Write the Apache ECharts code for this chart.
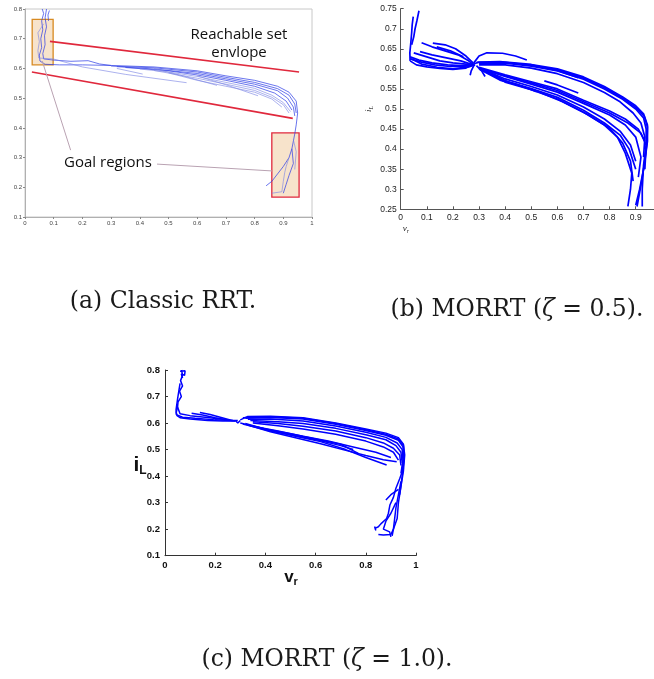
<!DOCTYPE html>
<html>
<head>
<meta charset="utf-8">
<script src="https://cdn.jsdelivr.net/npm/echarts@6/dist/echarts.min.js"></script>
<style>
html, body { margin: 0; padding: 0; background: #fff; }
#chart { width: 654px; height: 679px; }
</style>
</head>
<body>
<div id="chart"></div>
<script>
// (a) classic RRT, [v_r, i_L] points along each branch
var classicPaths = [
	[[0.06,0.8],[0.065,0.785],[0.058,0.76],[0.062,0.73],[0.055,0.7],[0.058,0.67],[0.05,0.645],[0.052,0.625],[0.07,0.614],[0.12,0.612],[0.2,0.612],[0.3,0.61]],
	[[0.075,0.8],[0.07,0.77],[0.075,0.74],[0.068,0.71],[0.07,0.68],[0.062,0.65],[0.065,0.632],[0.1,0.628],[0.16,0.624],[0.22,0.626],[0.26,0.615],[0.3,0.61]],
	[[0.085,0.795],[0.08,0.78],[0.082,0.76]],
	[[0.3,0.61],[0.45,0.605],[0.6,0.592],[0.7,0.575],[0.8,0.56],[0.88,0.54],[0.92,0.52],[0.945,0.49],[0.95,0.45],[0.945,0.41],[0.94,0.38]],
	[[0.3,0.608],[0.45,0.602],[0.6,0.588],[0.7,0.57],[0.8,0.553],[0.88,0.532],[0.92,0.51],[0.94,0.48],[0.945,0.45]],
	[[0.32,0.606],[0.45,0.598],[0.6,0.583],[0.7,0.565],[0.8,0.547],[0.88,0.525],[0.915,0.5],[0.935,0.47],[0.94,0.44]],
	[[0.35,0.603],[0.5,0.592],[0.6,0.578],[0.7,0.56],[0.8,0.54],[0.87,0.517],[0.91,0.49],[0.93,0.46]],
	[[0.94,0.38],[0.93,0.33],[0.92,0.3],[0.9,0.27],[0.88,0.245],[0.86,0.22],[0.84,0.205]],
	[[0.93,0.33],[0.935,0.28],[0.92,0.24],[0.91,0.21],[0.9,0.18]]
];
var classicFaintPaths = [
	[[0.065,0.75],[0.045,0.72],[0.05,0.69],[0.045,0.66],[0.048,0.635],[0.098,0.632],[0.2,0.605],[0.35,0.58],[0.563,0.552]],
	[[0.4,0.598],[0.5,0.588],[0.6,0.573],[0.7,0.553],[0.8,0.533],[0.86,0.51],[0.9,0.485],[0.925,0.455]],
	[[0.45,0.593],[0.6,0.567],[0.7,0.547],[0.8,0.526],[0.86,0.503],[0.9,0.478],[0.92,0.45]],
	[[0.5,0.585],[0.6,0.56],[0.7,0.54],[0.8,0.52],[0.86,0.497],[0.895,0.47]],
	[[0.45,0.6],[0.55,0.575],[0.669,0.543]],
	[[0.6,0.575],[0.7,0.545],[0.812,0.508]],
	[[0.32,0.6],[0.41,0.581]],
	[[0.92,0.3],[0.91,0.27],[0.905,0.25],[0.9,0.22],[0.895,0.185],[0.86,0.18]],
	[[0.935,0.36],[0.945,0.32],[0.94,0.26]]
];
// goal boxes [v0, i0, v1, i1] and envelope lines [v0, i0, v1, i1]
var goalBoxes = [[0.025,0.612,0.098,0.765],[0.86,0.167,0.955,0.383]];
var goalBoxColors = ['#d88a22', '#e0283c'];
var envelopeLines = [[0.087,0.691,0.955,0.588],[0.024,0.588,0.933,0.432]];
var goalPointers = [[0.159,0.325,0.06,0.625],[0.46,0.278,0.861,0.255]];

// (b) MORRT zeta = 0.5
var morrtHalfPaths = [
	[[0.036,0.62],[0.035,0.64],[0.038,0.66],[0.042,0.69],[0.044,0.71],[0.048,0.73]],
	[[0.042,0.66],[0.05,0.68],[0.055,0.7],[0.062,0.72],[0.07,0.745]],
	[[0.036,0.63],[0.07,0.622],[0.12,0.615],[0.18,0.61],[0.23,0.608],[0.278,0.61]],
	[[0.036,0.62],[0.06,0.61],[0.1,0.605],[0.15,0.601],[0.2,0.599],[0.25,0.602],[0.278,0.612]],
	[[0.04,0.625],[0.08,0.612],[0.14,0.604],[0.2,0.6],[0.26,0.605],[0.285,0.61]],
	[[0.036,0.625],[0.08,0.617],[0.13,0.61],[0.19,0.606],[0.24,0.606],[0.28,0.61]],
	[[0.074,0.643],[0.12,0.635],[0.18,0.627],[0.23,0.62],[0.278,0.61]],
	[[0.08,0.665],[0.12,0.655],[0.17,0.645],[0.22,0.635],[0.26,0.62],[0.28,0.61]],
	[[0.123,0.664],[0.17,0.66],[0.21,0.65],[0.25,0.632],[0.28,0.613]],
	[[0.05,0.64],[0.1,0.63],[0.15,0.62],[0.2,0.615],[0.25,0.612],[0.28,0.61]],
	[[0.138,0.655],[0.19,0.645],[0.24,0.63]],
	[[0.28,0.615],[0.3,0.632],[0.33,0.64],[0.39,0.639],[0.44,0.632],[0.483,0.622]],
	[[0.28,0.608],[0.27,0.595],[0.266,0.584]],
	[[0.29,0.608],[0.31,0.595],[0.323,0.581]],
	[[0.28,0.612],[0.3,0.617],[0.38,0.618],[0.5,0.611],[0.6,0.6],[0.7,0.58],[0.78,0.556],[0.85,0.53],[0.9,0.508],[0.93,0.488],[0.945,0.46],[0.945,0.42],[0.935,0.37],[0.92,0.31],[0.905,0.257]],
	[[0.29,0.616],[0.4,0.616],[0.5,0.609],[0.6,0.598],[0.7,0.577],[0.78,0.553],[0.85,0.527],[0.9,0.504],[0.932,0.483],[0.945,0.455],[0.943,0.415],[0.93,0.35],[0.915,0.3],[0.9,0.26]],
	[[0.3,0.614],[0.4,0.614],[0.5,0.607],[0.6,0.595],[0.7,0.574],[0.78,0.55],[0.85,0.524],[0.9,0.5],[0.93,0.478],[0.94,0.45],[0.94,0.41],[0.93,0.36],[0.925,0.3],[0.925,0.257]],
	[[0.3,0.61],[0.4,0.61],[0.5,0.602],[0.6,0.588],[0.7,0.566],[0.78,0.541],[0.84,0.518],[0.89,0.49],[0.92,0.465],[0.935,0.43],[0.93,0.38]],
	[[0.3,0.604],[0.4,0.585],[0.5,0.568],[0.6,0.55],[0.7,0.522],[0.8,0.495],[0.86,0.475],[0.91,0.45],[0.935,0.42]],
	[[0.3,0.602],[0.4,0.583],[0.5,0.565],[0.6,0.546],[0.7,0.518],[0.8,0.49],[0.87,0.465],[0.92,0.44],[0.94,0.41],[0.935,0.35]],
	[[0.31,0.6],[0.4,0.581],[0.5,0.562],[0.6,0.542],[0.7,0.514],[0.8,0.485],[0.86,0.46],[0.9,0.43],[0.92,0.38],[0.91,0.33]],
	[[0.32,0.597],[0.4,0.575],[0.5,0.556],[0.6,0.535],[0.7,0.505],[0.78,0.475],[0.84,0.445],[0.88,0.41],[0.9,0.37]],
	[[0.3,0.6],[0.38,0.572],[0.45,0.56],[0.521,0.543]],
	[[0.3,0.603],[0.4,0.57],[0.5,0.551],[0.6,0.529],[0.7,0.497],[0.78,0.465],[0.84,0.435],[0.875,0.4],[0.9,0.35]],
	[[0.31,0.598],[0.4,0.567],[0.5,0.548],[0.6,0.525],[0.7,0.492],[0.78,0.46],[0.83,0.43],[0.86,0.39],[0.885,0.34],[0.88,0.3],[0.87,0.257]],
	[[0.32,0.595],[0.42,0.565],[0.52,0.545],[0.62,0.518],[0.72,0.485],[0.8,0.452],[0.85,0.415],[0.88,0.37],[0.89,0.32]],
	[[0.5,0.61],[0.6,0.596],[0.68,0.578]],
	[[0.55,0.57],[0.6,0.56],[0.68,0.54]]
];

// (c) MORRT zeta = 1.0
var morrtOnePaths = [
	[[0.06,0.795],[0.08,0.797],[0.078,0.78],[0.065,0.785],[0.07,0.77]],
	[[0.066,0.8],[0.07,0.78],[0.062,0.76],[0.07,0.74],[0.058,0.72],[0.065,0.7],[0.052,0.68],[0.05,0.66],[0.045,0.64],[0.048,0.628],[0.06,0.62],[0.1,0.615],[0.17,0.61],[0.23,0.608],[0.28,0.608]],
	[[0.06,0.75],[0.055,0.72],[0.05,0.69],[0.044,0.65],[0.045,0.632],[0.07,0.622],[0.12,0.618],[0.2,0.612],[0.26,0.61],[0.29,0.61]],
	[[0.05,0.66],[0.06,0.635],[0.1,0.628],[0.16,0.622],[0.22,0.615],[0.27,0.61]],
	[[0.106,0.637],[0.15,0.63],[0.2,0.62],[0.25,0.612],[0.28,0.608]],
	[[0.139,0.64],[0.18,0.632],[0.22,0.622],[0.26,0.612]],
	[[0.28,0.61],[0.29,0.6],[0.3,0.61]],
	[[0.3,0.612],[0.33,0.625],[0.42,0.626],[0.55,0.62],[0.68,0.6],[0.8,0.578],[0.88,0.562],[0.93,0.545],[0.95,0.52],[0.955,0.48],[0.95,0.42],[0.94,0.36],[0.93,0.3],[0.925,0.24],[0.91,0.2],[0.905,0.175]],
	[[0.31,0.62],[0.42,0.624],[0.55,0.618],[0.68,0.598],[0.8,0.575],[0.88,0.558],[0.93,0.54],[0.95,0.515],[0.953,0.47],[0.945,0.4],[0.935,0.33]],
	[[0.32,0.618],[0.42,0.621],[0.55,0.615],[0.68,0.595],[0.8,0.572],[0.88,0.554],[0.93,0.535],[0.948,0.51],[0.95,0.47],[0.945,0.42]],
	[[0.33,0.614],[0.42,0.615],[0.55,0.608],[0.68,0.589],[0.8,0.565],[0.88,0.546],[0.925,0.525],[0.945,0.5],[0.948,0.46],[0.94,0.41]],
	[[0.34,0.61],[0.45,0.605],[0.55,0.598],[0.68,0.58],[0.8,0.556],[0.88,0.537],[0.92,0.515],[0.94,0.49],[0.945,0.45]],
	[[0.35,0.605],[0.45,0.598],[0.55,0.588],[0.68,0.57],[0.8,0.545],[0.87,0.525],[0.91,0.505],[0.935,0.48],[0.94,0.44]],
	[[0.35,0.6],[0.45,0.59],[0.55,0.578],[0.68,0.558],[0.8,0.532],[0.87,0.51],[0.91,0.49],[0.93,0.46]],
	[[0.3,0.6],[0.4,0.578],[0.5,0.56],[0.6,0.54],[0.7,0.52],[0.77,0.486]],
	[[0.31,0.596],[0.42,0.57],[0.52,0.552],[0.62,0.533],[0.7,0.515],[0.75,0.5]],
	[[0.32,0.598],[0.42,0.572],[0.52,0.55],[0.62,0.53],[0.72,0.5],[0.8,0.47],[0.883,0.442]],
	[[0.33,0.593],[0.42,0.567],[0.52,0.545],[0.62,0.522],[0.72,0.497],[0.8,0.478],[0.87,0.462],[0.923,0.454]],
	[[0.34,0.59],[0.45,0.57],[0.55,0.55],[0.65,0.532],[0.75,0.51],[0.84,0.49],[0.9,0.47]],
	[[0.95,0.43],[0.935,0.39],[0.92,0.354],[0.91,0.32],[0.896,0.291],[0.89,0.26],[0.883,0.24],[0.86,0.22],[0.85,0.209],[0.837,0.203],[0.84,0.195],[0.835,0.21]],
	[[0.94,0.38],[0.93,0.33],[0.92,0.28],[0.915,0.24],[0.91,0.2],[0.9,0.18],[0.87,0.178],[0.85,0.18]],
	[[0.92,0.3],[0.9,0.26],[0.88,0.23],[0.87,0.2],[0.895,0.19],[0.9,0.171]],
	[[0.93,0.35],[0.9,0.33],[0.88,0.31]]
];

var captions = ['(a) Classic RRT.', '(b) MORRT (', '(c) MORRT ('];

var chart = echarts.init(document.getElementById('chart'));

function pathSeries(paths, idx, color, width, opacity) {
	return paths.map(function(p) {
		return {
			type: 'line',
			xAxisIndex: idx,
			yAxisIndex: idx,
			data: p,
			showSymbol: false,
			symbol: 'none',
			silent: true,
			z: 3,
			lineStyle: { color: color, width: width, opacity: opacity }
		};
	});
}

var series = [];
// annotations of panel (a)
series.push({
	type: 'line',
	xAxisIndex: 0,
	yAxisIndex: 0,
	data: [],
	z: 1,
	silent: true,
	markArea: {
		silent: true,
		data: goalBoxes.map(function(b, k) {
			return [{
				coord: [b[0], b[1]],
				itemStyle: { color: '#f7e3cb', borderColor: goalBoxColors[k], borderWidth: 1.3, borderRadius: 3 }
			}, { coord: [b[2], b[3]] }];
		})
	}
});
series.push({
	type: 'line',
	xAxisIndex: 0,
	yAxisIndex: 0,
	data: [],
	z: 4,
	silent: true,
	markLine: {
		silent: true,
		symbol: 'none',
		label: { show: false },
		data: envelopeLines.map(function(l) {
			return [{ coord: [l[0], l[1]], lineStyle: { color: '#e0283c', width: 1.6, type: 'solid' } }, { coord: [l[2], l[3]] }];
		}).concat(goalPointers.map(function(l) {
			return [{ coord: [l[0], l[1]], lineStyle: { color: '#b9a2b2', width: 1, type: 'solid' } }, { coord: [l[2], l[3]] }];
		}))
	}
});
series = series.concat(pathSeries(classicPaths, 0, '#2f3fe6', 0.8, 0.9));
series = series.concat(pathSeries(classicFaintPaths, 0, '#7a84e4', 0.7, 0.9));
series = series.concat(pathSeries(morrtHalfPaths, 1, '#0000ff', 1.7, 1));
series = series.concat(pathSeries(morrtOnePaths, 2, '#0000ff', 1.5, 1));

var smallLabel = { fontFamily: 'Liberation Sans', fontSize: 6, color: '#444', margin: 3 };
var midLabel = { fontFamily: 'Liberation Sans', fontSize: 8.5, color: '#222', margin: 4 };
var boldLabel = { fontFamily: 'Liberation Sans', fontSize: 9.5, fontWeight: 'bold', color: '#111', margin: 5 };
var capFont = '23.5px "DejaVu Serif"';

var option = {
	animation: false,
	grid: [
		{ left: 25, top: 9, width: 287, height: 208, show: true, borderColor: '#c8c8c8', borderWidth: 1 },
		{ left: 400.7, top: 8.7, width: 253.3, height: 200.6 },
		{ left: 165, top: 370, width: 251, height: 185.7 }
	],
	xAxis: [
		{
			gridIndex: 0, type: 'value', min: 0, max: 1, interval: 0.1,
			axisLine: { lineStyle: { color: '#b0b0b0' } },
			axisTick: { length: 2, lineStyle: { color: '#888' } },
			axisLabel: smallLabel, splitLine: { show: false }
		},
		{
			gridIndex: 1, type: 'value', min: 0, max: 0.97, interval: 0.1,
			axisLine: { lineStyle: { color: '#555' } },
			axisTick: { inside: true, length: 3, lineStyle: { color: '#555' } },
			axisLabel: Object.assign({ showMaxLabel: false }, midLabel), splitLine: { show: false }
		},
		{
			gridIndex: 2, type: 'value', min: 0, max: 1, interval: 0.2,
			axisLine: { lineStyle: { color: '#333' } },
			axisTick: { inside: true, length: 3, lineStyle: { color: '#333' } },
			axisLabel: boldLabel, splitLine: { show: false }
		}
	],
	yAxis: [
		{
			gridIndex: 0, type: 'value', min: 0.1, max: 0.8, interval: 0.1,
			axisLine: { show: true, lineStyle: { color: '#b0b0b0' } },
			axisTick: { show: true, length: 2, lineStyle: { color: '#888' } },
			axisLabel: smallLabel, splitLine: { show: false }
		},
		{
			gridIndex: 1, type: 'value', min: 0.25, max: 0.75, interval: 0.05,
			axisLine: { show: true, lineStyle: { color: '#555' } },
			axisTick: { show: true, inside: true, length: 3, lineStyle: { color: '#555' } },
			axisLabel: midLabel, splitLine: { show: false }
		},
		{
			gridIndex: 2, type: 'value', min: 0.1, max: 0.8, interval: 0.1,
			axisLine: { show: true, lineStyle: { color: '#333' } },
			axisTick: { show: true, inside: true, length: 3, lineStyle: { color: '#333' } },
			axisLabel: boldLabel, splitLine: { show: false }
		}
	],
	graphic: [
		{ type: 'text', x: 239, y: 35, style: { text: 'Reachable set', font: '15px "Open Sans"', fill: '#111', align: 'center', verticalAlign: 'middle' } },
		{ type: 'text', x: 239, y: 53, style: { text: 'envlope', font: '15px "Open Sans"', fill: '#111', align: 'center', verticalAlign: 'middle' } },
		{ type: 'text', x: 108, y: 163, style: { text: 'Goal regions', font: '15px "Open Sans"', fill: '#111', align: 'center', verticalAlign: 'middle' } },
		{
			type: 'text', x: 369, y: 109, rotation: Math.PI / 2,
			style: {
				text: '{a|i}{b|L}', align: 'center', verticalAlign: 'middle',
				rich: { a: { font: 'italic 9px "Liberation Serif"', fill: '#222' }, b: { font: 'italic 6px "Liberation Serif"', fill: '#222', padding: [5, 0, 0, 0] } }
			}
		},
		{
			type: 'text', x: 406, y: 229,
			style: {
				text: '{a|v}{b|r}', align: 'center', verticalAlign: 'middle',
				rich: { a: { font: 'italic 9px "Liberation Serif"', fill: '#222' }, b: { font: 'italic 6px "Liberation Serif"', fill: '#222', padding: [5, 0, 0, 0] } }
			}
		},
		{
			type: 'text', x: 140, y: 465,
			style: {
				text: '{a|i}{b|L}', align: 'center', verticalAlign: 'middle',
				rich: { a: { font: 'bold 21px "Liberation Sans"', fill: '#111' }, b: { font: 'bold 12px "Liberation Sans"', fill: '#111', padding: [11, 0, 0, 0] } }
			}
		},
		{
			type: 'text', x: 291, y: 577,
			style: {
				text: '{a|v}{b|r}', align: 'center', verticalAlign: 'middle',
				rich: { a: { font: 'bold 17px "Liberation Sans"', fill: '#111' }, b: { font: 'bold 11px "Liberation Sans"', fill: '#111', padding: [9, 0, 0, 0] } }
			}
		},
		{
			type: 'text', x: 163, y: 302,
			style: { text: captions[0], font: capFont, fill: '#1a1a1a', align: 'center', verticalAlign: 'middle' }
		},
		{
			type: 'text', x: 517, y: 310,
			style: {
				text: '{r|' + captions[1] + '}{g|ζ}{r| = 0.5).}', align: 'center', verticalAlign: 'middle',
				rich: { r: { font: capFont, fill: '#1a1a1a' }, g: { font: 'italic ' + capFont, fill: '#1a1a1a' } }
			}
		},
		{
			type: 'text', x: 327, y: 660,
			style: {
				text: '{r|' + captions[2] + '}{g|ζ}{r| = 1.0).}', align: 'center', verticalAlign: 'middle',
				rich: { r: { font: capFont, fill: '#1a1a1a' }, g: { font: 'italic ' + capFont, fill: '#1a1a1a' } }
			}
		}
	],
	series: series
};

chart.setOption(option);
</script>
</body>
</html>
